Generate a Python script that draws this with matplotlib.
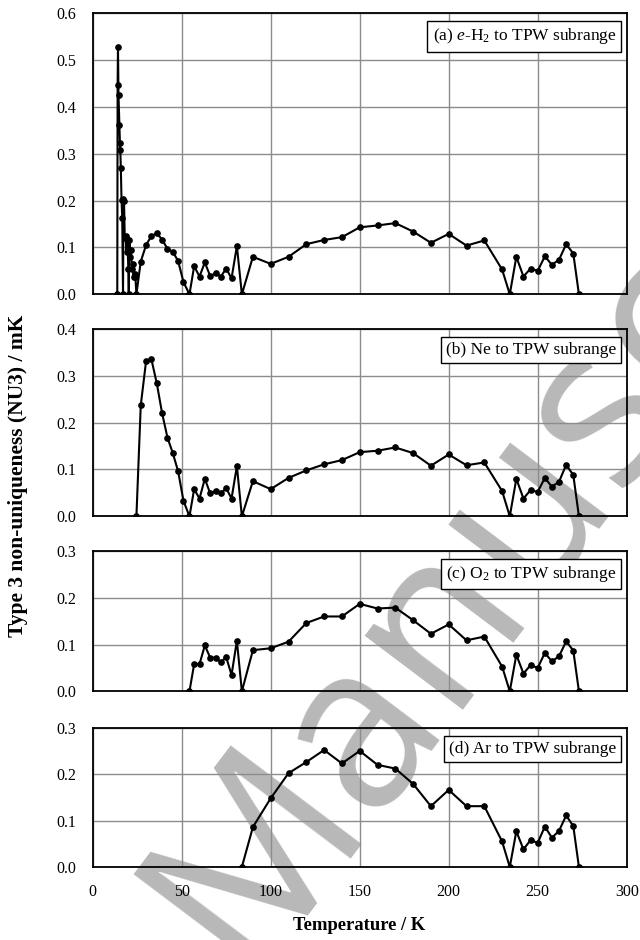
import matplotlib
matplotlib.use("Agg")
import matplotlib.pyplot as plt

plt.rcParams["font.family"] = "Liberation Serif"
plt.rcParams["mathtext.fontset"] = "custom"
plt.rcParams["mathtext.rm"] = "Liberation Serif"
plt.rcParams["mathtext.it"] = "Liberation Serif:italic"

# fixed points (K)
T_H2, T_17, T_20, T_NE = 13.8033, 17.0357, 20.2711, 24.5561
T_O2, T_AR, T_HG, T_TPW = 54.3584, 83.8058, 234.3156, 273.16

# shared temperature grid from the O2 point up to the TPW
temps_mid = [T_O2, 57, 60, 63, 66, 69, 72, 75, 78, 81, T_AR,
             90, 100, 110, 120, 130, 140, 150, 160, 170, 180, 190, 200,
             210, 220, 230, T_HG, 238, 242, 246, 250, 254, 258, 262, 266,
             270, T_TPW]
temps_ne = [T_NE, 27, 30, 33, 36, 39, 42, 45, 48, 51]
temps_h2 = [T_H2, 14.0, 14.2, 14.5, 15.0, 15.3, 15.5, 15.8, 16.2, 16.6,
            T_17, 17.3, 17.6, 18.0, 18.5, 19.0, 19.5, 20.0,
            T_20, 20.6, 21.0, 21.5, 22.0, 22.5, 23.0, 23.5, 24.0]

nu3_h2 = ([0, 0.447, 0.529, 0.425, 0.361, 0.323, 0.308, 0.270, 0.201, 0.163,
           0, 0.204, 0.200, 0.120, 0.125, 0.090, 0.118, 0.055,
           0, 0.116, 0.080, 0.094, 0.055, 0.065, 0.036, 0.044, 0.036]
          + [0, 0.070, 0.105, 0.125, 0.130, 0.117, 0.097, 0.091, 0.071, 0.026]
          + [0, 0.060, 0.038, 0.068, 0.039, 0.045, 0.038, 0.055, 0.034, 0.103, 0,
             0.080, 0.065, 0.080, 0.107, 0.116, 0.122, 0.143, 0.147, 0.152,
             0.134, 0.110, 0.129, 0.104, 0.115, 0.053, 0,
             0.080, 0.038, 0.055, 0.050, 0.081, 0.063, 0.074, 0.107, 0.087, 0])
nu3_ne = ([0, 0.237, 0.332, 0.335, 0.284, 0.220, 0.168, 0.135, 0.096, 0.033]
          + [0, 0.058, 0.038, 0.080, 0.049, 0.054, 0.049, 0.060, 0.038, 0.107, 0,
             0.075, 0.058, 0.082, 0.098, 0.111, 0.120, 0.137, 0.140, 0.147,
             0.135, 0.108, 0.132, 0.109, 0.115, 0.054, 0,
             0.080, 0.038, 0.056, 0.052, 0.082, 0.063, 0.074, 0.110, 0.088, 0])
nu3_o2 = [0, 0.058, 0.058, 0.098, 0.072, 0.072, 0.062, 0.073, 0.035, 0.108, 0,
          0.088, 0.092, 0.106, 0.146, 0.160, 0.160, 0.187, 0.177, 0.179,
          0.152, 0.123, 0.143, 0.109, 0.117, 0.053, 0,
          0.078, 0.038, 0.056, 0.050, 0.082, 0.064, 0.075, 0.107, 0.087, 0]
nu3_ar = [0, 0.086, 0.148, 0.202, 0.226, 0.252, 0.223, 0.250, 0.220,
          0.212, 0.179, 0.131, 0.166, 0.131, 0.131, 0.055, 0,
          0.077, 0.038, 0.058, 0.052, 0.087, 0.063, 0.078, 0.111, 0.088, 0]

panels = [
    (temps_h2 + temps_ne + temps_mid, nu3_h2, 0.6,
     "(a) $e$-H$_2$ to TPW subrange"),
    (temps_ne + temps_mid, nu3_ne, 0.4, "(b) Ne to TPW subrange"),
    (temps_mid, nu3_o2, 0.3, "(c) O$_2$ to TPW subrange"),
    (temps_mid[10:], nu3_ar, 0.3, "(d) Ar to TPW subrange"),
]

fig = plt.figure(figsize=(6.4, 9.4), dpi=100)

# watermark, drawn underneath the (transparent) axes
fig.text(0.38, -0.035, "Manuscript", fontsize=165, color="#b8b8b8",
         family="Open Sans", rotation=53,
         rotation_mode="anchor", ha="left", va="baseline", zorder=0)

# axes boxes in figure pixels: (top, bottom)
boxes = [(13.3, 294.3), (329.0, 516.3), (551.0, 691.3), (727.7, 867.0)]
left, right = 92.7, 626.7
W, H = 640.0, 940.0

for i, ((t, v, ymax, label), (top, bot)) in enumerate(zip(panels, boxes)):
    ax = fig.add_axes([left / W, 1 - bot / H, (right - left) / W, (bot - top) / H])
    ax.set_zorder(1)
    ax.set_facecolor("none")
    ax.plot(t, v, color="black", lw=1.5, marker="o", markersize=3.8, zorder=3)
    ax.set_xlim(0, 300)
    ax.set_ylim(0, ymax)
    ax.set_xticks(range(0, 301, 50))
    ax.set_yticks([k / 10 for k in range(int(round(ymax * 10)) + 1)])
    ax.yaxis.set_major_formatter(plt.FormatStrFormatter("%.1f"))
    ax.grid(True, color="#8c8c8c", lw=1.0)
    ax.set_axisbelow(True)
    ax.tick_params(length=0, labelsize=11.5, pad=12)
    if i < 3:
        ax.tick_params(labelbottom=False)
    for s in ax.spines.values():
        s.set_linewidth(1.3)
    ax.annotate(label, xy=(1, 1), xycoords="axes fraction",
                xytext=(-7.5, -9.5), textcoords="offset points",
                ha="right", va="top", fontsize=12.5, zorder=5,
                bbox=dict(boxstyle="square,pad=0.3", fc="white", ec="black", lw=1))

fig.text(18 / W, 1 - 476 / H, "Type 3 non-uniqueness (NU3) / mK",
         rotation=90, ha="center", va="center", fontsize=15.5, fontweight="bold")
fig.text(359 / W, 1 - 925 / H, "Temperature / K",
         ha="center", va="center", fontsize=13.4, fontweight="bold")

fig.savefig("out.png", dpi=100)
